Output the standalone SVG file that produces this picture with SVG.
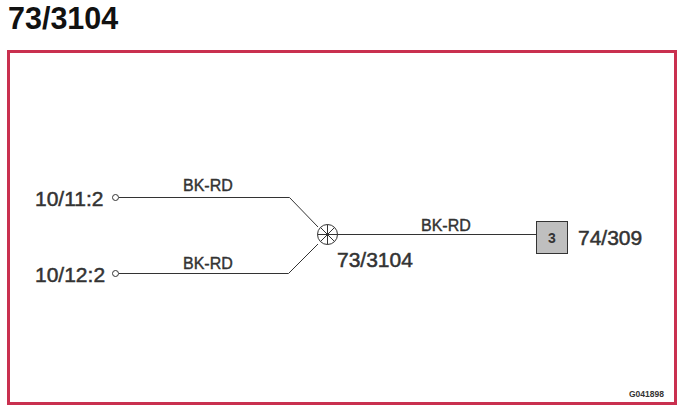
<svg xmlns="http://www.w3.org/2000/svg" width="682" height="410" viewBox="0 0 682 410">
<style>
text{font-family:"Liberation Sans",Arial,sans-serif;fill:#333}
.w{fill:none;stroke:#333;stroke-width:1}
.big{font-size:21px;stroke:#333;stroke-width:.5px}
.lab{font-size:16px;stroke:#333;stroke-width:.4px}
</style>
<rect width="682" height="410" fill="#fff"/>
<text x="8" y="28.500" font-size="30.500" font-weight="bold" style="fill:#111">73/3104</text>
<rect x="8.500" y="51.500" width="667" height="352" fill="none" stroke="#c9304f" stroke-width="3"/>
<g id="connectors">
<path class="w" d="M119 197.500H289.500L318 227"/>
<path class="w" d="M119 273.500H288.500L318 244"/>
<path class="w" d="M337.500 234.500H537"/>
<text class="lab" x="183" y="191">BK-RD</text>
<text class="lab" x="183" y="269">BK-RD</text>
<text class="lab" x="421" y="231">BK-RD</text>
</g>
<g id="n1"><circle class="w" cx="115.500" cy="197.500" r="3" fill="#fff"/><text class="big" x="35" y="205.500">10/11:2</text></g>
<g id="n2"><circle class="w" cx="115.500" cy="273.500" r="3" fill="#fff"/><text class="big" x="35" y="281.500">10/12:2</text></g>
<g id="n3"><circle class="w" cx="327.500" cy="234.500" r="10"/>
<path class="w" d="M327.500 224.500V244.500M317.500 234.500H337.500M320.500 227.500L334.500 241.500M320.500 241.500L334.500 227.500"/>
<text class="big" x="337" y="267">73/3104</text></g>
<g id="n4"><rect x="536.500" y="221.500" width="31" height="32" fill="#bfbfbf" stroke="#333"/>
<text x="552" y="242.500" text-anchor="middle" font-size="14" font-weight="bold">3</text>
<text class="big" x="578" y="244.500">74/309</text></g>
<text x="629" y="397" font-size="8.500" font-weight="bold">G041898</text>
</svg>
